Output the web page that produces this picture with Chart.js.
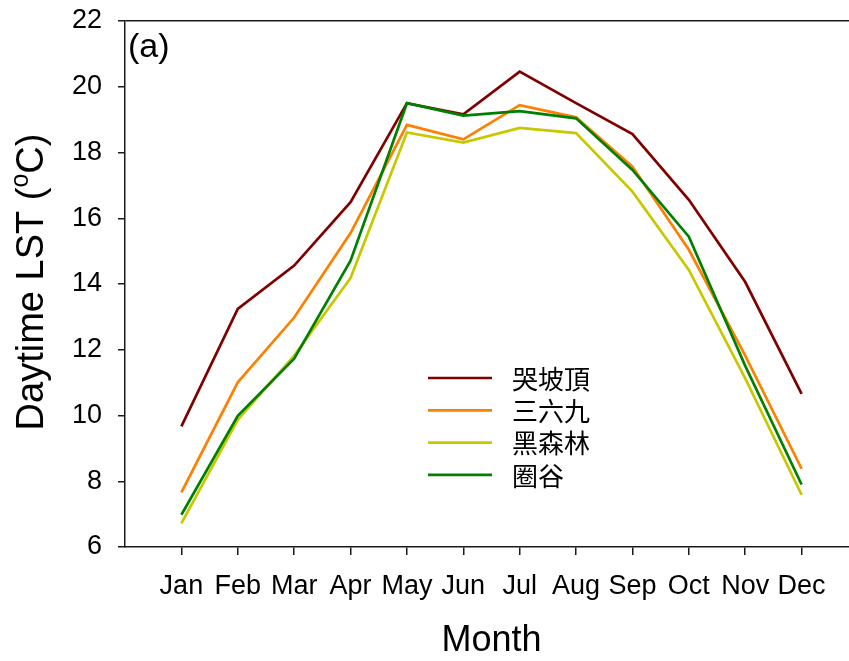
<!DOCTYPE html>
<html lang="en">
<head>
  <meta charset="UTF-8">
  <title>Daytime LST</title>
  <script src="https://cdn.jsdelivr.net/npm/chart.js"></script>
  <style>
    html, body {
      margin: 0;
      padding: 0;
      background: #fff;
      overflow: hidden; /* the plot runs past the right edge, as in the figure */
    }
    .chart-container {
      width: 870px;
      height: 661px;
    }
  </style>
</head>
<body>
  <div class="chart-container">
    <canvas id="lstChart" width="870" height="661"></canvas>
  </div>

  <script>
    // Months shown at x = 1..12
    const months = ['Jan', 'Feb', 'Mar', 'Apr', 'May', 'Jun', 'Jul', 'Aug', 'Sep', 'Oct', 'Nov', 'Dec'];

    // Series names
    const siteNames = ['哭坡頂', '三六九', '黑森林', '圈谷'];

    // Daytime LST values (oC)
    const kupoding = [9.67, 13.24, 14.56, 16.49, 19.50, 19.16, 20.46, 19.50, 18.56, 16.56, 14.06, 10.66];
    const sanliujiu = [7.66, 11.01, 12.98, 15.55, 18.84, 18.40, 19.44, 19.07, 17.57, 15.04, 11.82, 8.38];
    const heisenlin = [6.72, 9.87, 11.82, 14.18, 18.61, 18.30, 18.75, 18.59, 16.81, 14.43, 11.13, 7.59];
    const quangu = [6.98, 9.99, 11.73, 14.71, 19.50, 19.12, 19.26, 19.04, 17.47, 15.44, 11.51, 7.90];

    const yTicks = [6, 8, 10, 12, 14, 16, 18, 20, 22];

    const seriesColors = ['#800000', '#ff8000', '#c8c800', '#008000'];
    const axisColor = '#1a1a1a';

    function toPoints(values) {
      return values.map(function(v, i) { return { x: i + 1, y: v }; });
    }

    const allSeries = [kupoding, sanliujiu, heisenlin, quangu];

    const datasets = allSeries.map(function(values, i) {
      return {
        label: siteNames[i],
        data: toPoints(values),
        borderColor: seriesColors[i],
        backgroundColor: seriesColors[i],
        borderWidth: 2.7,
        pointRadius: 0,
        tension: 0,
        order: allSeries.length - i // green on top, red at the bottom
      };
    });

    // y-axis title with a superscript "o"
    const yTitlePlugin = {
      id: 'yTitle',
      afterDraw: function(chart) {
        const ctx = chart.ctx;
        const area = chart.chartArea;
        const big = '38px "Liberation Sans", Arial, sans-serif';
        const small = '25px "Liberation Sans", Arial, sans-serif';
        const part1 = 'Daytime LST (';
        const sup = 'o';
        const part2 = 'C)';
        ctx.save();
        ctx.font = big;
        const w1 = ctx.measureText(part1).width;
        const w3 = ctx.measureText(part2).width;
        ctx.font = small;
        const w2 = ctx.measureText(sup).width;
        const total = w1 + w2 + w3;
        ctx.translate(33, (area.top + area.bottom) / 2 - 2);
        ctx.rotate(-Math.PI / 2);
        ctx.fillStyle = '#000';
        ctx.textBaseline = 'middle';
        ctx.textAlign = 'left';
        let x = -total / 2;
        ctx.font = big;
        ctx.fillText(part1, x, 0);
        x += w1;
        ctx.font = small;
        ctx.fillText(sup, x, -12);
        x += w2;
        ctx.font = big;
        ctx.fillText(part2, x, 0);
        ctx.restore();
      }
    };

    // panel letter and legend inside the plot
    const panelPlugin = {
      id: 'panel',
      afterDraw: function(chart) {
        const ctx = chart.ctx;
        ctx.save();
        ctx.fillStyle = '#000';
        ctx.font = '34px "Liberation Sans", Arial, sans-serif';
        ctx.textBaseline = 'alphabetic';
        ctx.textAlign = 'left';
        ctx.fillText('(a)', 128, 57);

        // legend
        const x0 = 428, x1 = 492, yStart = 378, step = 32.3;
        chart.data.datasets.forEach(function(ds, i) {
          const y = yStart + i * step;
          ctx.strokeStyle = ds.borderColor;
          ctx.lineWidth = 2.7;
          ctx.beginPath();
          ctx.moveTo(x0, y);
          ctx.lineTo(x1, y);
          ctx.stroke();
          ctx.font = '26px "Noto Sans CJK TC", sans-serif';
          ctx.textBaseline = 'middle';
          ctx.fillStyle = '#000';
          ctx.fillText(ds.label, 512, y + 1);
        });
        ctx.restore();
      }
    };

    function noEdgePadding(scale) {
      scale.paddingTop = 0;
      scale.paddingBottom = 0;
      scale.paddingLeft = 0;
      scale.paddingRight = 0;
    }

    const ctx = document.getElementById('lstChart').getContext('2d');
    new Chart(ctx, {
      type: 'line',
      data: { datasets: datasets },
      options: {
        responsive: false,
        animation: false,
        events: [],
        layout: {
          padding: { left: 0, top: 21, right: 12, bottom: 0 }
        },
        plugins: {
          legend: { display: false },
          tooltip: { enabled: false }
        },
        scales: {
          x: {
            type: 'linear',
            min: 0,
            max: 13,
            afterBuildTicks: function(scale) {
              scale.ticks = [];
              for (let v = 0; v <= 13; v++) scale.ticks.push({ value: v });
            },
            afterFit: function(scale) {
              scale.height = 114;
              noEdgePadding(scale);
            },
            ticks: {
              autoSkip: false,
              maxRotation: 0,
              padding: 15,
              color: '#000',
              font: { family: '"Liberation Sans", Arial, sans-serif', size: 27 },
              callback: function(value) { return months[value - 1] || ''; }
            },
            grid: {
              drawOnChartArea: false,
              tickLength: 8,
              lineWidth: 1.5,
              color: function(c) {
                const v = c.tick ? c.tick.value : -1;
                return (v >= 1 && v <= 12) ? axisColor : 'rgba(0,0,0,0)';
              }
            },
            border: { display: true, color: axisColor, width: 1.5 },
            title: {
              display: true,
              text: 'Month',
              color: '#000',
              font: { family: '"Liberation Sans", Arial, sans-serif', size: 36 },
              padding: { top: 0, bottom: -2 }
            }
          },
          y: {
            min: 6,
            max: 22,
            afterBuildTicks: function(scale) {
              scale.ticks = yTicks.map(function(v) { return { value: v }; });
            },
            afterFit: function(scale) {
              scale.width = 125;
              noEdgePadding(scale);
            },
            ticks: {
              padding: 16,
              color: '#000',
              font: { family: '"Liberation Sans", Arial, sans-serif', size: 27 }
            },
            grid: {
              drawOnChartArea: true,
              tickLength: 7,
              lineWidth: 1.5,
              tickColor: axisColor,
              color: function(c) {
                return (c.tick && c.tick.value === 22) ? axisColor : 'rgba(0,0,0,0)';
              }
            },
            border: { display: true, color: axisColor, width: 1.5 }
          }
        }
      },
      plugins: [yTitlePlugin, panelPlugin]
    });
  </script>
</body>
</html>
